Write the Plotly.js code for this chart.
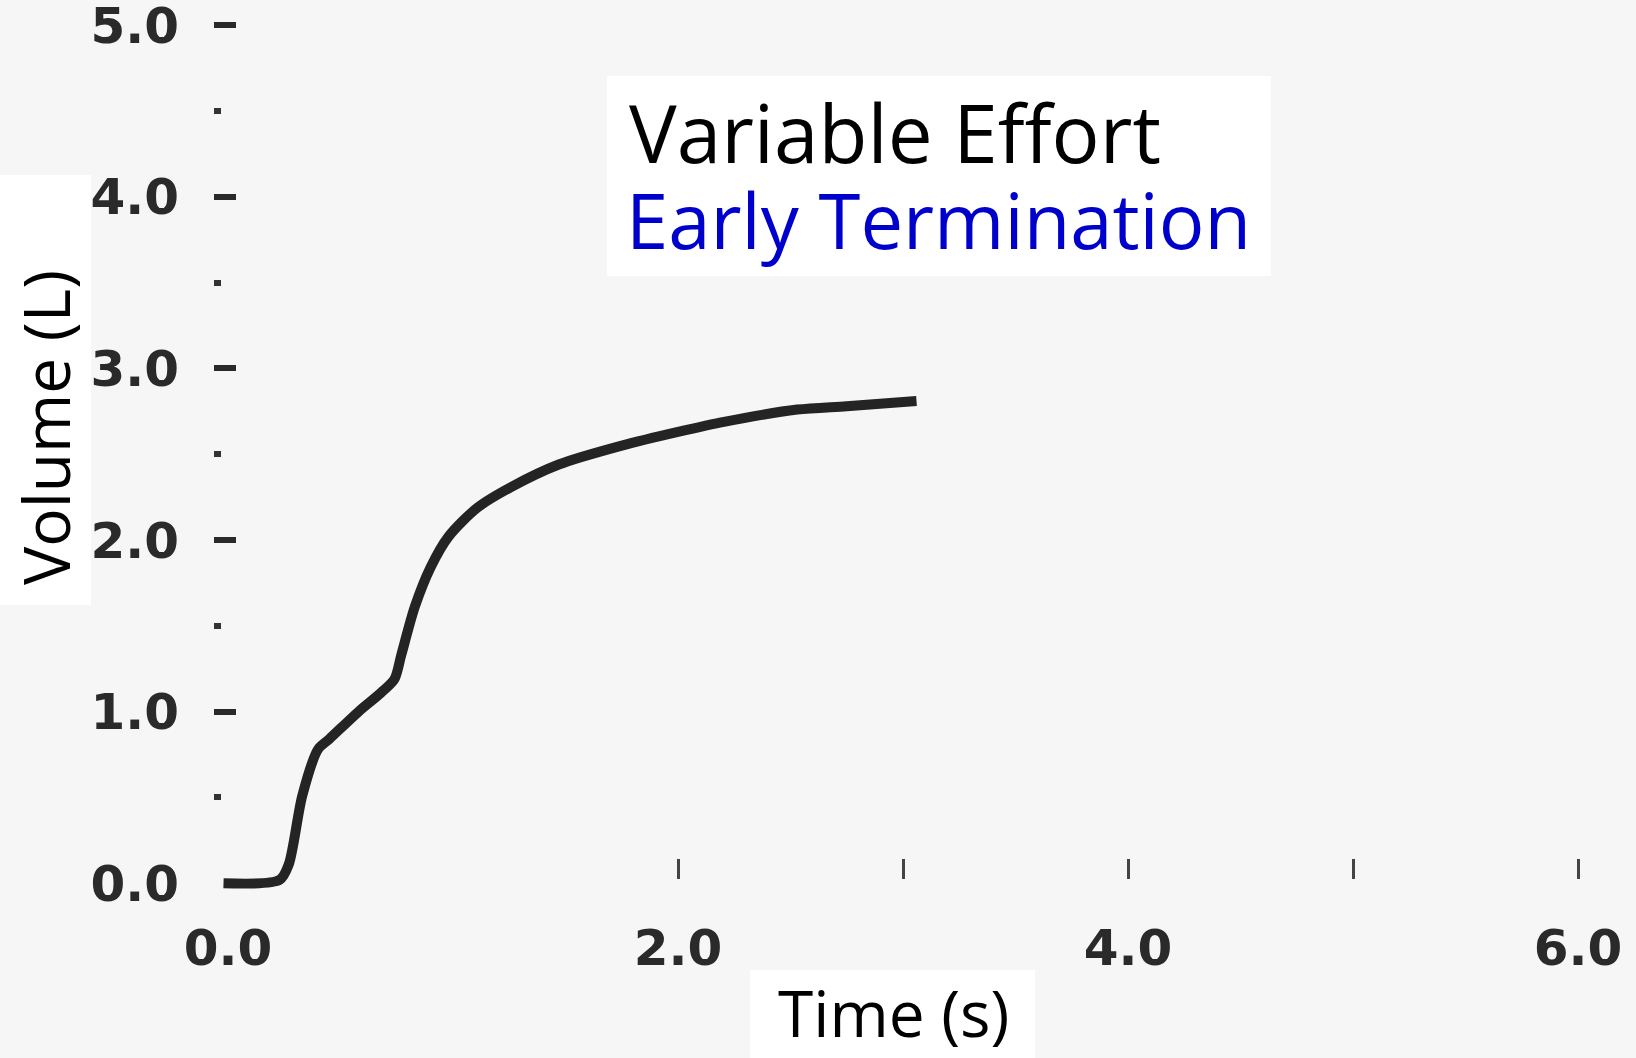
<!DOCTYPE html>
<html>
<head>
<meta charset="utf-8">
<script src="https://cdn.plot.ly/plotly-3.0.1.min.js"></script>
<style>
  html, body { margin: 0; padding: 0; background: #f6f6f6; }
  #chart { width: 1636px; height: 1058px; }
</style>
</head>
<body>
<div id="chart"></div>
<script>
// ---- data ----
const timeS   = [-0.02, 0.23, 0.27, 0.33, 0.40, 0.45, 0.58, 0.68, 0.74, 0.77, 0.83, 0.90, 0.98, 1.11, 1.26, 1.47, 1.75, 2.00, 2.21, 2.53, 2.75, 3.06];
const volumeL = [0.00, 0.02, 0.11, 0.51, 0.78, 0.84, 1.00, 1.11, 1.19, 1.33, 1.61, 1.84, 2.02, 2.19, 2.31, 2.44, 2.55, 2.63, 2.69, 2.76, 2.78, 2.81];

const xTickVals  = [0, 2, 4, 6];
const xTickText  = ['0.0', '2.0', '4.0', '6.0'];
const xMarkVals  = [2, 3, 4, 5, 6];
const yTickVals  = [0, 1, 2, 3, 4, 5];
const yTickText  = ['0.0', '1.0', '2.0', '3.0', '4.0', '5.0'];
const yMarkVals  = [1, 2, 3, 4, 5];
const yMinorVals = [0.5, 1.5, 2.5, 3.5, 4.5];

const titleLine1 = 'Variable Effort';
const titleLine2 = 'Early Termination';
const xTitle = 'Time (s)';
const yTitle = 'Volume (L)';

// ---- layout geometry (pixels) ----
const W = 1636, H = 1058;
const M = { l: 213, r: 0, t: 8, b: 149 };
const PW = W - M.l - M.r, PH = H - M.t - M.b;
const fx = px => (px - M.l) / PW;
const fy = py => (H - M.b - py) / PH;

const xRange = [-0.0667, 6.2578];
const yRange = [-0.15, 5.1];

const labelFont = { family: 'DejaVu Sans', size: 50, color: '#2a2a2a', weight: 'bold' };
const textFont = 'Open Sans';

const traces = [
  {
    x: timeS, y: volumeL, type: 'scatter', mode: 'lines',
    line: { color: '#242424', width: 10, shape: 'spline', smoothing: 0.8 },
    hoverinfo: 'skip', xaxis: 'x', yaxis: 'y'
  },
  { x: [], y: [], type: 'scatter', mode: 'lines', xaxis: 'x2', yaxis: 'y2', hoverinfo: 'skip' }
];

const layout = {
  width: W, height: H,
  margin: M,
  paper_bgcolor: '#f6f6f6',
  plot_bgcolor: '#f6f6f6',
  showlegend: false,
  xaxis: {
    range: xRange, tickmode: 'array', tickvals: xTickVals, ticktext: xTickText,
    ticks: '', showgrid: false, zeroline: false, showline: false,
    tickfont: labelFont, ticklabelstandoff: 5, ticklabeloverflow: 'allow', fixedrange: true
  },
  yaxis: {
    range: yRange, tickmode: 'array', tickvals: yTickVals, ticktext: yTickText,
    ticks: '', showgrid: false, zeroline: false, showline: false,
    tickfont: labelFont, ticklabelstandoff: 33, ticklabeloverflow: 'allow', fixedrange: true
  },
  xaxis2: {
    overlaying: 'x', anchor: 'free', position: fy(879), side: 'bottom',
    range: xRange, tickmode: 'array', tickvals: xMarkVals,
    ticks: 'inside', ticklen: 20, tickwidth: 3, tickcolor: '#444',
    showticklabels: false, showgrid: false, zeroline: false, showline: false
  },
  yaxis2: {
    overlaying: 'y', anchor: 'free', position: 0, side: 'left',
    range: yRange, tickmode: 'array', tickvals: yMarkVals,
    ticks: 'inside', ticklen: 22, tickwidth: 6, tickcolor: '#2a2a2a',
    minor: { tickmode: 'array', tickvals: yMinorVals, ticks: 'inside', ticklen: 7, tickwidth: 6, tickcolor: '#333' },
    showticklabels: false, showgrid: false, zeroline: false, showline: false
  },
  shapes: [
    { type: 'rect', xref: 'paper', yref: 'paper', x0: fx(607), x1: fx(1271), y0: fy(276), y1: fy(76),
      fillcolor: '#ffffff', line: { width: 0 }, layer: 'above' },
    { type: 'rect', xref: 'paper', yref: 'paper', x0: fx(750), x1: fx(1035), y0: fy(1058), y1: fy(970),
      fillcolor: '#ffffff', line: { width: 0 }, layer: 'above' },
    { type: 'rect', xref: 'paper', yref: 'paper', x0: fx(0), x1: fx(91), y0: fy(605), y1: fy(175),
      fillcolor: '#ffffff', line: { width: 0 }, layer: 'above' }
  ],
  annotations: [
    { xref: 'paper', yref: 'paper', x: fx(627), y: fy(131), xanchor: 'left', yanchor: 'middle',
      text: titleLine1, showarrow: false, font: { family: textFont, size: 80, color: '#000000' } },
    { xref: 'paper', yref: 'paper', x: fx(624), y: fy(219), xanchor: 'left', yanchor: 'middle',
      text: titleLine2, showarrow: false, font: { family: textFont, size: 76, color: '#0000cc' } },
    { xref: 'paper', yref: 'paper', x: fx(893), y: fy(1012), xanchor: 'center', yanchor: 'middle',
      text: xTitle, showarrow: false, font: { family: textFont, size: 64, color: '#000000' } },
    { xref: 'paper', yref: 'paper', x: fx(45), y: fy(428), xanchor: 'center', yanchor: 'middle',
      text: yTitle, textangle: -90, showarrow: false, font: { family: textFont, size: 64, color: '#000000' } }
  ]
};

Plotly.newPlot('chart', traces, layout, { staticPlot: true, displayModeBar: false });
</script>
</body>
</html>
